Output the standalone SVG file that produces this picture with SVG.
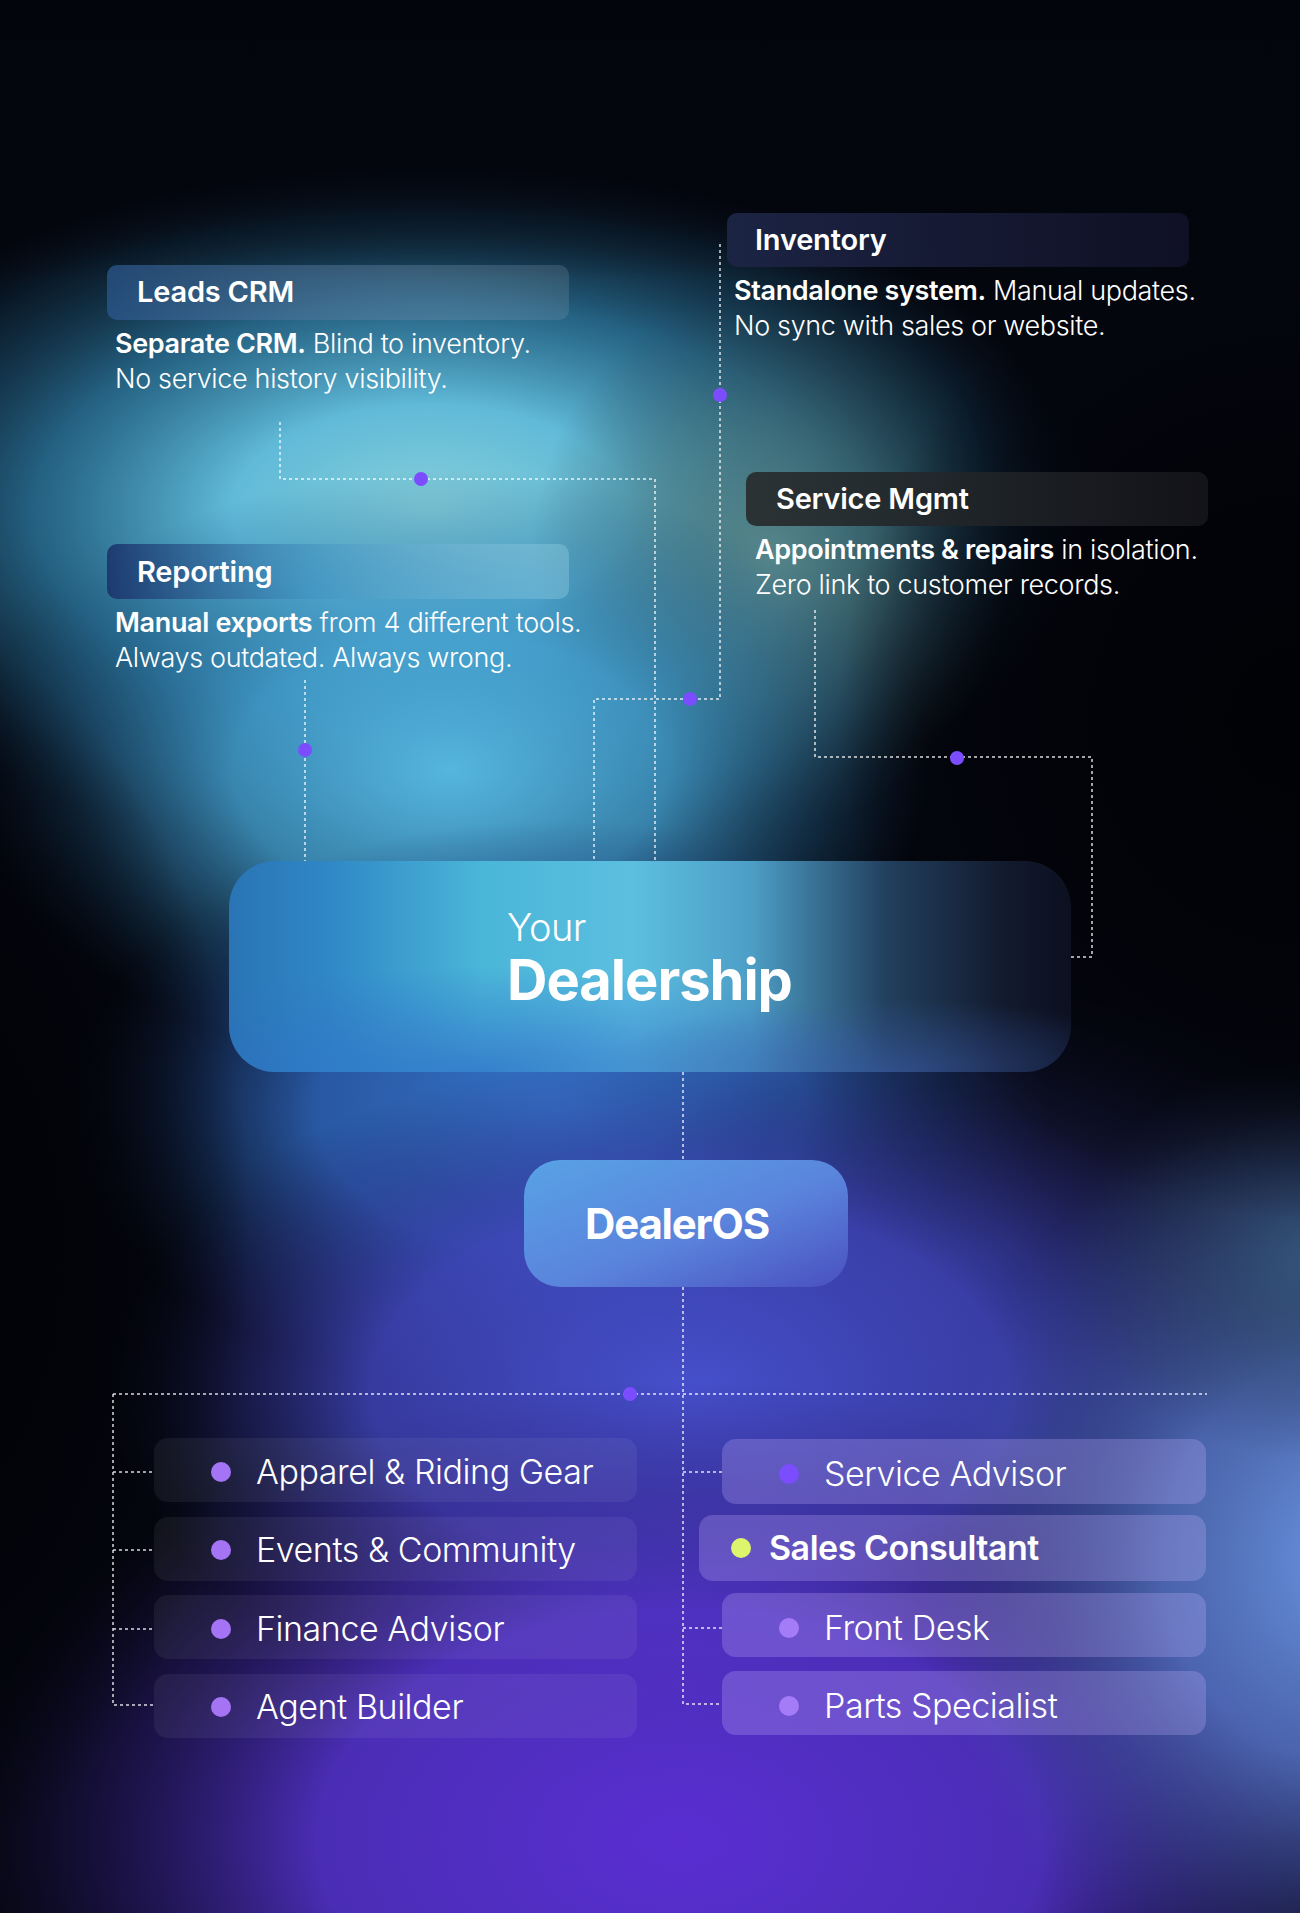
<svg xmlns="http://www.w3.org/2000/svg" width="1300" height="1913" viewBox="0 0 1300 1913">
<defs>
<radialGradient id="gTeal"><stop offset="0" stop-color="#86cfd9"/><stop offset="0.3" stop-color="#60bad8"/><stop offset="0.6" stop-color="#2f7fa8" stop-opacity="0.75"/><stop offset="0.85" stop-color="#174460" stop-opacity="0.4"/><stop offset="1" stop-color="#0b2434" stop-opacity="0"/></radialGradient>
<radialGradient id="gSage"><stop offset="0" stop-color="#5e8a88" stop-opacity="0.85"/><stop offset="0.5" stop-color="#4a6e6c" stop-opacity="0.5"/><stop offset="1" stop-color="#2a3e40" stop-opacity="0"/></radialGradient>
<radialGradient id="gCyan"><stop offset="0" stop-color="#56b6de"/><stop offset="0.45" stop-color="#44a0d0" stop-opacity="0.8"/><stop offset="1" stop-color="#1d5a8a" stop-opacity="0"/></radialGradient>
<radialGradient id="gBlue"><stop offset="0" stop-color="#3676cc"/><stop offset="0.5" stop-color="#2f66bc" stop-opacity="0.85"/><stop offset="1" stop-color="#1a3a70" stop-opacity="0"/></radialGradient>
<radialGradient id="gIndigo"><stop offset="0" stop-color="#4650cc"/><stop offset="0.55" stop-color="#3f44b8" stop-opacity="0.85"/><stop offset="1" stop-color="#22226a" stop-opacity="0"/></radialGradient>
<radialGradient id="gPurple"><stop offset="0" stop-color="#5a2ed2"/><stop offset="0.5" stop-color="#5232c8" stop-opacity="0.9"/><stop offset="1" stop-color="#2a1a70" stop-opacity="0"/></radialGradient>
<radialGradient id="gPeri"><stop offset="0" stop-color="#6e98e6"/><stop offset="0.45" stop-color="#5e80d8" stop-opacity="0.75"/><stop offset="1" stop-color="#3a4aa0" stop-opacity="0"/></radialGradient>
<radialGradient id="gSlate"><stop offset="0" stop-color="#35567a"/><stop offset="1" stop-color="#2a3a60" stop-opacity="0"/></radialGradient>
<radialGradient id="gNavy"><stop offset="0" stop-color="#262a66" stop-opacity="0.8"/><stop offset="1" stop-color="#1a1c48" stop-opacity="0"/></radialGradient>
<radialGradient id="gDark"><stop offset="0" stop-color="#010205"/><stop offset="0.5" stop-color="#020308" stop-opacity="0.85"/><stop offset="1" stop-color="#02030a" stop-opacity="0"/></radialGradient>
<linearGradient id="gTop" x1="0" y1="0" x2="0" y2="1"><stop offset="0" stop-color="#03050d"/><stop offset="0.5" stop-color="#03050d" stop-opacity="0.8"/><stop offset="1" stop-color="#03050d" stop-opacity="0"/></linearGradient>
<linearGradient id="hLeads" x1="0" y1="0" x2="1" y2="0"><stop offset="0" stop-color="#2c5a92" stop-opacity="0.7"/><stop offset="1" stop-color="#8aa0b0" stop-opacity="0.22"/></linearGradient>
<linearGradient id="hInv" x1="0" y1="0" x2="1" y2="0"><stop offset="0" stop-color="#1c2444"/><stop offset="1" stop-color="#12132a" stop-opacity="0.8"/></linearGradient>
<linearGradient id="hSvc" x1="0" y1="0" x2="1" y2="0"><stop offset="0" stop-color="#2a3234"/><stop offset="1" stop-color="#16161c" stop-opacity="0.85"/></linearGradient>
<linearGradient id="hRep" x1="0" y1="0" x2="1" y2="0"><stop offset="0" stop-color="#1a3068" stop-opacity="0.85"/><stop offset="0.45" stop-color="#3f8fc0" stop-opacity="0.5"/><stop offset="1" stop-color="#a8dcec" stop-opacity="0.3"/></linearGradient>
<linearGradient id="gDeal" x1="0" y1="0" x2="1" y2="0"><stop offset="0" stop-color="#2a74b4"/><stop offset="0.12" stop-color="#3088c6"/><stop offset="0.3" stop-color="#4ab6d8"/><stop offset="0.48" stop-color="#5cbfe0"/><stop offset="0.62" stop-color="#4d9ec6"/><stop offset="0.78" stop-color="#22405e"/><stop offset="0.92" stop-color="#121a2e"/><stop offset="1" stop-color="#0c1020"/></linearGradient>
<radialGradient id="gDealBL" cx="0.3" cy="1" r="0.5"><stop offset="0" stop-color="#2f6ec8" stop-opacity="0.75"/><stop offset="1" stop-color="#2f6ec8" stop-opacity="0"/></radialGradient>
<radialGradient id="gDealBR" cx="0.78" cy="1" r="0.35"><stop offset="0" stop-color="#3a5aa8" stop-opacity="0.6"/><stop offset="1" stop-color="#3a5aa8" stop-opacity="0"/></radialGradient>
<linearGradient id="gOS" x1="0" y1="0" x2="1" y2="1"><stop offset="0" stop-color="#58a2e6"/><stop offset="0.55" stop-color="#5a84dc"/><stop offset="1" stop-color="#4a50c0"/></linearGradient>
<style>
.t{font-family:Inter,"Liberation Sans",Arial,sans-serif;fill:#ffffff}
.hd{font-size:29px;font-weight:600;letter-spacing:-0.2px}
.bd{font-size:27px;font-weight:300;letter-spacing:-0.35px}
.bd .b{font-weight:600}
.li{font-size:34px;font-weight:300;letter-spacing:-0.45px}
.cn{fill:none;stroke:#ffffff;stroke-opacity:0.85;stroke-width:1.5;stroke-dasharray:3 3}
.dot{fill:#7b4dff}
.lbox{fill:#ffffff;fill-opacity:0.06}
.rbox{fill:#c8b4ff;fill-opacity:0.26}
</style>
</defs>

<g id="background">
<rect x="0" y="0" width="1300" height="1913" fill="#04060e"/>
<ellipse cx="430" cy="510" rx="660" ry="350" fill="url(#gTeal)"/>
<ellipse cx="770" cy="560" rx="240" ry="270" fill="url(#gSage)"/>
<ellipse cx="450" cy="770" rx="480" ry="300" fill="url(#gCyan)"/>
<ellipse cx="560" cy="1110" rx="490" ry="290" fill="url(#gBlue)"/>
<ellipse cx="1000" cy="1250" rx="380" ry="260" fill="url(#gNavy)"/>
<ellipse cx="690" cy="1390" rx="580" ry="340" fill="url(#gIndigo)"/>
<ellipse cx="680" cy="1840" rx="720" ry="460" fill="url(#gPurple)"/>
<ellipse cx="1360" cy="1560" rx="440" ry="460" fill="url(#gPeri)"/>
<ellipse cx="1320" cy="1260" rx="260" ry="200" fill="url(#gSlate)"/>
<ellipse cx="1290" cy="720" rx="450" ry="500" fill="url(#gDark)"/>
<ellipse cx="-90" cy="1250" rx="340" ry="620" fill="url(#gDark)"/>
<rect x="0" y="0" width="1300" height="280" fill="url(#gTop)"/>
</g>

<g id="connectors">
<path class="cn" d="M280,422 V479 H655 V861"/>
<path class="cn" d="M720,244 V699 H594 V861"/>
<path class="cn" d="M815,610 V757 H1092 V957 H1071"/>
<path class="cn" d="M305,680 V861"/>
<path class="cn" d="M683,1072 V1160"/>
<path class="cn" d="M683,1287 V1704 H722"/>
<path class="cn" d="M683,1472 H722 M683,1628 H722"/>
<path class="cn" d="M113,1394 H1207"/>
<path class="cn" d="M113,1394 V1705 H154 M113,1472 H154 M113,1550 H154 M113,1629 H154"/>
<circle class="dot" cx="421" cy="479" r="7"/>
<circle class="dot" cx="720" cy="395" r="7"/>
<circle class="dot" cx="690" cy="699" r="7"/>
<circle class="dot" cx="957" cy="758" r="7"/>
<circle class="dot" cx="305" cy="750" r="7"/>
<circle class="dot" cx="630" cy="1394" r="7"/>
</g>

<g id="leads-crm">
<rect x="107" y="265" width="462" height="55" rx="10" fill="url(#hLeads)"/>
<text class="t hd" x="137" y="302">Leads CRM</text>
<text class="t bd" x="115" y="353"><tspan class="b">Separate CRM.</tspan> Blind to inventory.</text>
<text class="t bd" x="115" y="388">No service history visibility.</text>
</g>

<g id="inventory">
<rect x="727" y="213" width="462" height="54" rx="10" fill="url(#hInv)"/>
<text class="t hd" x="755" y="250">Inventory</text>
<text class="t bd" x="734" y="300"><tspan class="b">Standalone system.</tspan> Manual updates.</text>
<text class="t bd" x="734" y="335">No sync with sales or website.</text>
</g>

<g id="service-mgmt">
<rect x="746" y="472" width="462" height="54" rx="10" fill="url(#hSvc)"/>
<text class="t hd" x="776" y="509">Service Mgmt</text>
<text class="t bd" x="755" y="559"><tspan class="b">Appointments &amp; repairs</tspan> in isolation.</text>
<text class="t bd" x="755" y="594">Zero link to customer records.</text>
</g>

<g id="reporting">
<rect x="107" y="544" width="462" height="55" rx="10" fill="url(#hRep)"/>
<text class="t hd" x="137" y="582">Reporting</text>
<text class="t bd" x="115" y="632"><tspan class="b">Manual exports</tspan> from 4 different tools.</text>
<text class="t bd" x="115" y="667">Always outdated. Always wrong.</text>
</g>

<g id="your-dealership">
<rect x="229" y="861" width="842" height="211" rx="46" fill="url(#gDeal)"/>
<rect x="229" y="861" width="842" height="211" rx="46" fill="url(#gDealBL)"/>
<rect x="229" y="861" width="842" height="211" rx="46" fill="url(#gDealBR)"/>
<text class="t" x="507" y="941" font-size="38" font-weight="300" letter-spacing="-0.5">Your</text>
<text class="t" x="507" y="1000" font-size="56" font-weight="700" letter-spacing="-1">Dealership</text>
</g>

<g id="dealeros">
<rect x="524" y="1160" width="324" height="127" rx="36" fill="url(#gOS)"/>
<text class="t" x="677" y="1239" font-size="42" font-weight="700" letter-spacing="-1.2" text-anchor="middle">DealerOS</text>
</g>

<g id="apparel">
<rect class="lbox" x="154" y="1438" width="483" height="64" rx="14"/>
<circle cx="221" cy="1472" r="10" fill="#a474f4"/>
<text class="t li" x="256" y="1484">Apparel &amp; Riding Gear</text>
</g>
<g id="events">
<rect class="lbox" x="154" y="1517" width="483" height="64" rx="14"/>
<circle cx="221" cy="1550" r="10" fill="#a474f4"/>
<text class="t li" x="256" y="1562">Events &amp; Community</text>
</g>
<g id="finance">
<rect class="lbox" x="154" y="1595" width="483" height="64" rx="14"/>
<circle cx="221" cy="1629" r="10" fill="#a474f4"/>
<text class="t li" x="256" y="1641">Finance Advisor</text>
</g>
<g id="agent-builder">
<rect class="lbox" x="154" y="1674" width="483" height="64" rx="14"/>
<circle cx="221" cy="1707" r="10" fill="#a474f4"/>
<text class="t li" x="256" y="1719">Agent Builder</text>
</g>

<g id="service-advisor">
<rect class="rbox" x="722" y="1439" width="484" height="65" rx="14"/>
<circle cx="789" cy="1474" r="10" fill="#7c4dff"/>
<text class="t li" x="824" y="1486">Service Advisor</text>
</g>
<g id="sales-consultant">
<rect class="rbox" x="699" y="1515" width="507" height="66" rx="14"/>
<circle cx="741" cy="1548" r="10" fill="#dcf56c"/>
<text class="t" x="769" y="1560" font-size="34" font-weight="600" letter-spacing="-0.5">Sales Consultant</text>
</g>
<g id="front-desk">
<rect class="rbox" x="722" y="1593" width="484" height="64" rx="14"/>
<circle cx="789" cy="1628" r="10" fill="#a57cf8"/>
<text class="t li" x="824" y="1640">Front Desk</text>
</g>
<g id="parts-specialist">
<rect class="rbox" x="722" y="1671" width="484" height="64" rx="14"/>
<circle cx="789" cy="1706" r="10" fill="#a57cf8"/>
<text class="t li" x="824" y="1718">Parts Specialist</text>
</g>
</svg>
